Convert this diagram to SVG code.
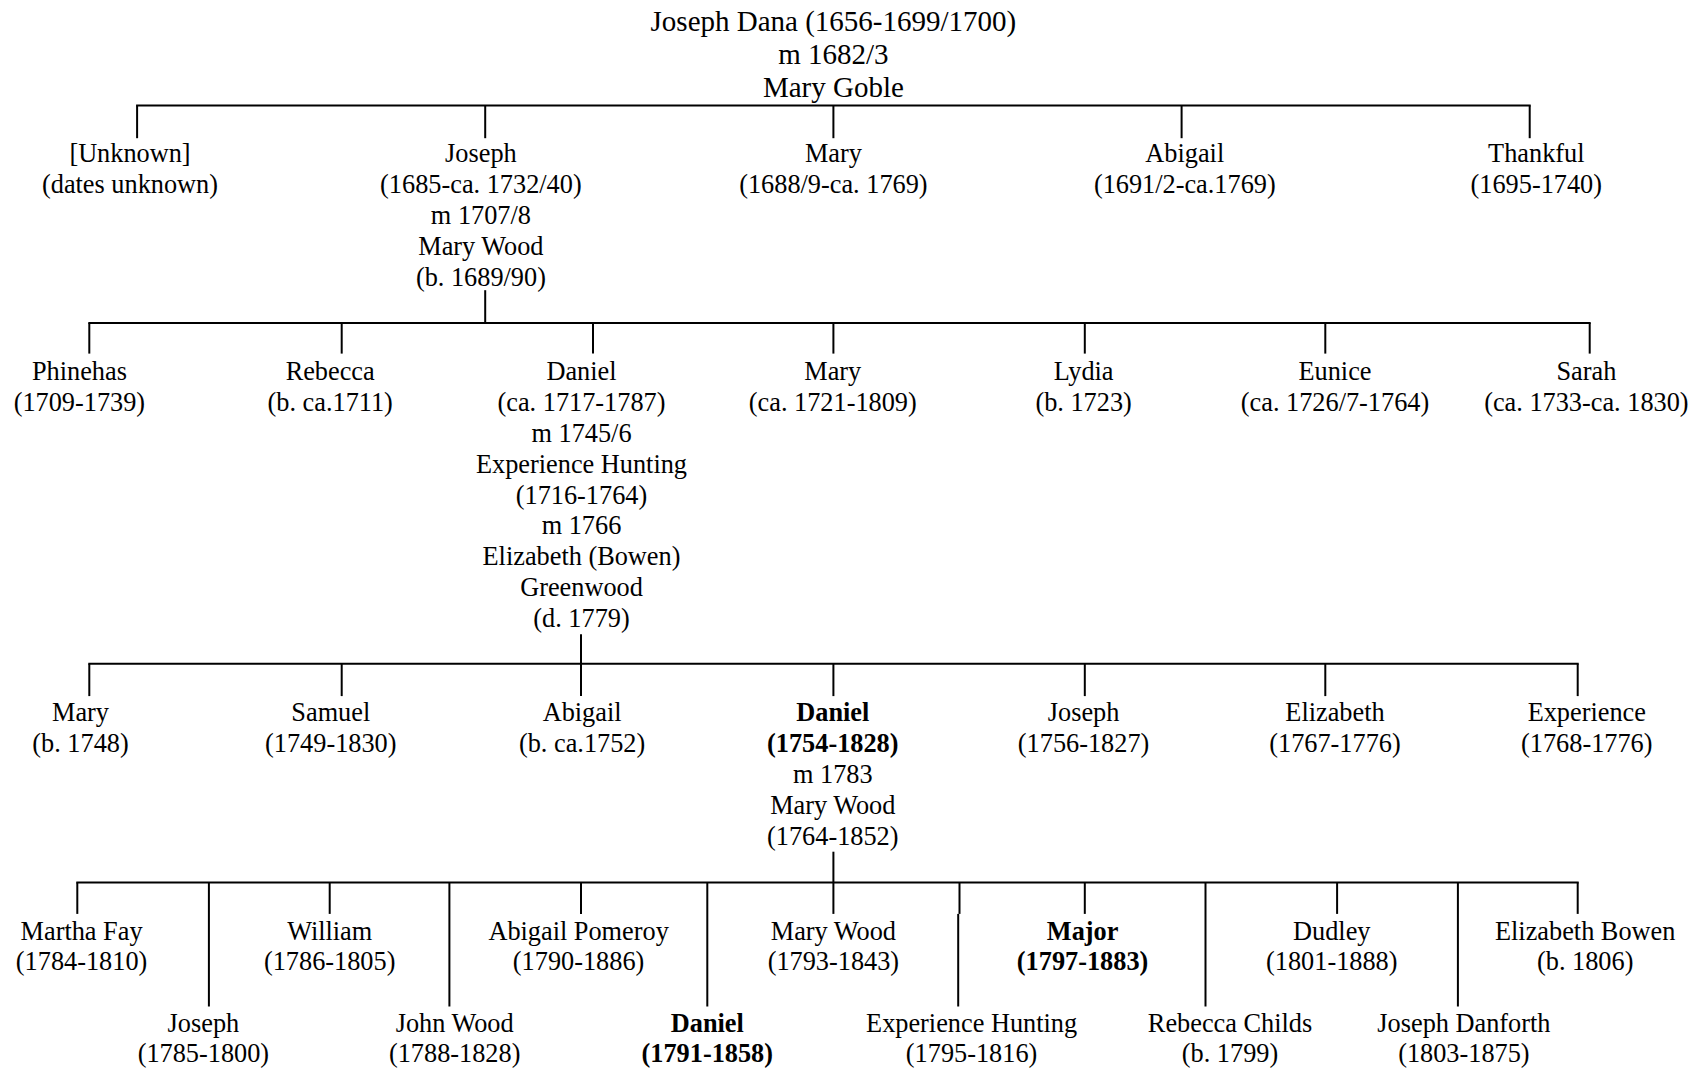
<svg xmlns="http://www.w3.org/2000/svg" width="1705" height="1068" viewBox="0 0 1705 1068">
<style>
text{font-family:"Liberation Serif","Times New Roman",serif;font-size:26.3px;fill:#000;text-anchor:middle}
.title{font-size:29px}
.b{font-weight:bold}
.c line{stroke:#000;stroke-width:2}
</style>
<rect width="1705" height="1068" fill="#fff"/>
<g class="c" id="connectors">
<line x1="136.1" y1="105.5" x2="1530.7" y2="105.5"/>
<line x1="137.1" y1="105.5" x2="137.1" y2="138.2"/>
<line x1="485.2" y1="105.5" x2="485.2" y2="138.2"/>
<line x1="833.4" y1="105.5" x2="833.4" y2="138.2"/>
<line x1="1181.6" y1="105.5" x2="1181.6" y2="138.2"/>
<line x1="1529.7" y1="105.5" x2="1529.7" y2="138.2"/>
<line x1="485.2" y1="290.2" x2="485.2" y2="323.1"/>
<line x1="88.3" y1="323.1" x2="1590.7" y2="323.1"/>
<line x1="89.3" y1="323.1" x2="89.3" y2="353.6"/>
<line x1="341.7" y1="323.1" x2="341.7" y2="353.6"/>
<line x1="593" y1="323.1" x2="593" y2="353.6"/>
<line x1="833.4" y1="323.1" x2="833.4" y2="353.6"/>
<line x1="1084.8" y1="323.1" x2="1084.8" y2="353.6"/>
<line x1="1325.3" y1="323.1" x2="1325.3" y2="353.6"/>
<line x1="1589.7" y1="323.1" x2="1589.7" y2="353.6"/>
<line x1="581" y1="634.3" x2="581" y2="663.7"/>
<line x1="88.3" y1="663.7" x2="1578.7" y2="663.7"/>
<line x1="89.3" y1="663.7" x2="89.3" y2="696.1"/>
<line x1="341.7" y1="663.7" x2="341.7" y2="696.1"/>
<line x1="581" y1="663.7" x2="581" y2="696.1"/>
<line x1="833.4" y1="663.7" x2="833.4" y2="696.1"/>
<line x1="1084.8" y1="663.7" x2="1084.8" y2="696.1"/>
<line x1="1325.3" y1="663.7" x2="1325.3" y2="696.1"/>
<line x1="1577.7" y1="663.7" x2="1577.7" y2="696.1"/>
<line x1="833.4" y1="851.7" x2="833.4" y2="882.4"/>
<line x1="76.3" y1="882.4" x2="1578.7" y2="882.4"/>
<line x1="77.3" y1="882.4" x2="77.3" y2="913.9"/>
<line x1="208.9" y1="882.4" x2="208.9" y2="1006.5"/>
<line x1="329.7" y1="882.4" x2="329.7" y2="913.9"/>
<line x1="449.4" y1="882.4" x2="449.4" y2="1006.5"/>
<line x1="581" y1="882.4" x2="581" y2="913.9"/>
<line x1="707.3" y1="882.4" x2="707.3" y2="1006.5"/>
<line x1="833.4" y1="882.4" x2="833.4" y2="913.9"/>
<line x1="959.5" y1="882.4" x2="959.5" y2="913.9"/>
<line x1="958.2" y1="913.9" x2="958.2" y2="1006.5"/>
<line x1="1084.8" y1="882.4" x2="1084.8" y2="913.9"/>
<line x1="1205.5" y1="882.4" x2="1205.5" y2="1006.5"/>
<line x1="1337.1" y1="882.4" x2="1337.1" y2="913.9"/>
<line x1="1457.9" y1="882.4" x2="1457.9" y2="1006.5"/>
<line x1="1577.7" y1="882.4" x2="1577.7" y2="913.9"/>
</g>
<g id="n-root"><text class="title" x="833.4" y="30.9">Joseph Dana (1656-1699/1700)</text><text class="title" x="833.4" y="64.3">m 1682/3</text><text class="title" x="833.4" y="97.2">Mary Goble</text></g>
<g id="n-unknown"><text x="130" y="162.2">[Unknown]</text><text x="130" y="193.1">(dates unknown)</text></g>
<g id="n-joseph1"><text x="480.9" y="162.2">Joseph</text><text x="480.9" y="193.1">(1685-ca. 1732/40)</text><text x="480.9" y="224">m 1707/8</text><text x="480.9" y="254.9">Mary Wood</text><text x="480.9" y="285.8">(b. 1689/90)</text></g>
<g id="n-mary1"><text x="833.4" y="162.2">Mary</text><text x="833.4" y="193.1">(1688/9-ca. 1769)</text></g>
<g id="n-abigail1"><text x="1184.8" y="162.2">Abigail</text><text x="1184.8" y="193.1">(1691/2-ca.1769)</text></g>
<g id="n-thankful"><text x="1536.3" y="162.2">Thankful</text><text x="1536.3" y="193.1">(1695-1740)</text></g>
<g id="n-phinehas"><text x="79.4" y="379.8">Phinehas</text><text x="79.4" y="410.7">(1709-1739)</text></g>
<g id="n-rebecca"><text x="330.2" y="379.8">Rebecca</text><text x="330.2" y="410.7">(b. ca.1711)</text></g>
<g id="n-daniel2"><text x="581.5" y="379.8">Daniel</text><text x="581.5" y="410.7">(ca. 1717-1787)</text><text x="581.5" y="441.6">m 1745/6</text><text x="581.5" y="472.6">Experience Hunting</text><text x="581.5" y="503.5">(1716-1764)</text><text x="581.5" y="534.4">m 1766</text><text x="581.5" y="565.3">Elizabeth (Bowen)</text><text x="581.5" y="596.2">Greenwood</text><text x="581.5" y="627.1">(d. 1779)</text></g>
<g id="n-mary2"><text x="832.8" y="379.8">Mary</text><text x="832.8" y="410.7">(ca. 1721-1809)</text></g>
<g id="n-lydia"><text x="1083.6" y="379.8">Lydia</text><text x="1083.6" y="410.7">(b. 1723)</text></g>
<g id="n-eunice"><text x="1335" y="379.8">Eunice</text><text x="1335" y="410.7">(ca. 1726/7-1764)</text></g>
<g id="n-sarah"><text x="1586.4" y="379.8">Sarah</text><text x="1586.4" y="410.7">(ca. 1733-ca. 1830)</text></g>
<g id="n-mary3"><text x="80.5" y="721.3">Mary</text><text x="80.5" y="752.2">(b. 1748)</text></g>
<g id="n-samuel"><text x="330.8" y="721.3">Samuel</text><text x="330.8" y="752.2">(1749-1830)</text></g>
<g id="n-abigail3"><text x="582.1" y="721.3">Abigail</text><text x="582.1" y="752.2">(b. ca.1752)</text></g>
<g id="n-daniel3"><text class="b" x="832.8" y="721.3">Daniel</text><text class="b" x="832.8" y="752.2">(1754-1828)</text><text x="832.8" y="783.1">m 1783</text><text x="832.8" y="814">Mary Wood</text><text x="832.8" y="844.9">(1764-1852)</text></g>
<g id="n-joseph3"><text x="1083.6" y="721.3">Joseph</text><text x="1083.6" y="752.2">(1756-1827)</text></g>
<g id="n-elizabeth3"><text x="1335" y="721.3">Elizabeth</text><text x="1335" y="752.2">(1767-1776)</text></g>
<g id="n-experience3"><text x="1586.8" y="721.3">Experience</text><text x="1586.8" y="752.2">(1768-1776)</text></g>
<g id="n-martha"><text x="81.6" y="939.8">Martha Fay</text><text x="81.6" y="970.2">(1784-1810)</text></g>
<g id="n-joseph4"><text x="203.4" y="1031.8">Joseph</text><text x="203.4" y="1061.5">(1785-1800)</text></g>
<g id="n-william"><text x="329.7" y="939.8">William</text><text x="329.7" y="970.2">(1786-1805)</text></g>
<g id="n-johnwood"><text x="454.7" y="1031.8">John Wood</text><text x="454.7" y="1061.5">(1788-1828)</text></g>
<g id="n-abigailp"><text x="578.6" y="939.8">Abigail Pomeroy</text><text x="578.6" y="970.2">(1790-1886)</text></g>
<g id="n-daniel4"><text class="b" x="707.3" y="1031.8">Daniel</text><text class="b" x="707.3" y="1061.5">(1791-1858)</text></g>
<g id="n-marywood4"><text x="833.4" y="939.8">Mary Wood</text><text x="833.4" y="970.2">(1793-1843)</text></g>
<g id="n-experience4"><text x="971.6" y="1031.8">Experience Hunting</text><text x="971.6" y="1061.5">(1795-1816)</text></g>
<g id="n-major"><text class="b" x="1082.6" y="939.8">Major</text><text class="b" x="1082.6" y="970.2">(1797-1883)</text></g>
<g id="n-rebecca4"><text x="1230" y="1031.8">Rebecca Childs</text><text x="1230" y="1061.5">(b. 1799)</text></g>
<g id="n-dudley"><text x="1331.8" y="939.8">Dudley</text><text x="1331.8" y="970.2">(1801-1888)</text></g>
<g id="n-josephd"><text x="1463.9" y="1031.8">Joseph Danforth</text><text x="1463.9" y="1061.5">(1803-1875)</text></g>
<g id="n-elizabethb"><text x="1585.2" y="939.8">Elizabeth Bowen</text><text x="1585.2" y="970.2">(b. 1806)</text></g>
</svg>
